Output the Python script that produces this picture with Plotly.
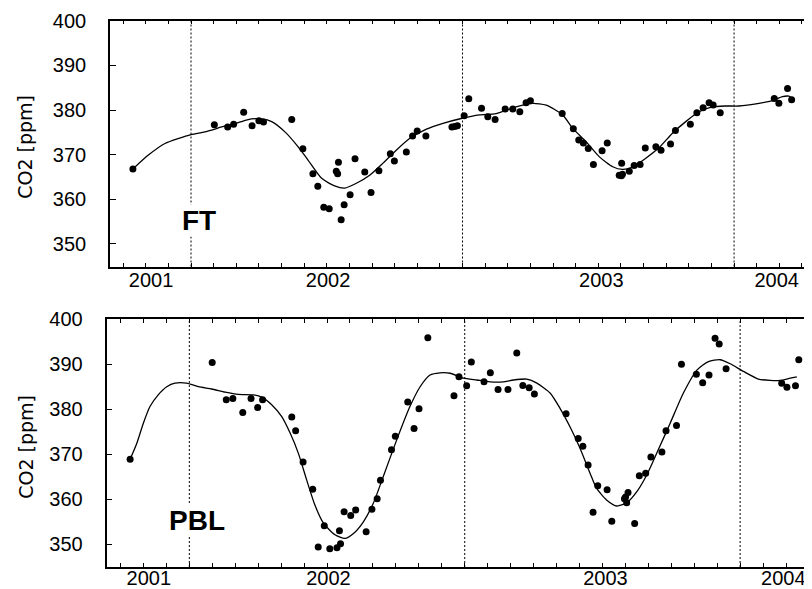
import plotly.graph_objects as go

# ---------------- data (decimal year, CO2 ppm) ----------------
ft_time = [2001.286, 2001.586, 2001.635, 2001.657, 2001.694, 2001.725, 2001.750, 2001.767, 2001.871, 2001.912,
           2001.949, 2001.967, 2001.989, 2002.009, 2002.035, 2002.040, 2002.043, 2002.053, 2002.064, 2002.086,
           2002.104, 2002.140, 2002.163, 2002.192, 2002.234, 2002.249, 2002.293, 2002.316, 2002.333, 2002.365,
           2002.461, 2002.471, 2002.481, 2002.506, 2002.523, 2002.570, 2002.593, 2002.620, 2002.657, 2002.685,
           2002.711, 2002.734, 2002.750, 2002.867, 2002.908, 2002.928, 2002.945, 2002.963, 2002.982, 2003.014,
           2003.033, 2003.077, 2003.085, 2003.089, 2003.086, 2003.114, 2003.132, 2003.154, 2003.173, 2003.212,
           2003.231, 2003.266, 2003.284, 2003.339, 2003.363, 2003.386, 2003.408, 2003.423, 2003.449, 2003.648,
           2003.665, 2003.697, 2003.712]
ft_co2 = [366.8, 376.7, 376.2, 376.8, 379.5, 376.5, 377.6, 377.3, 377.9, 371.3,
          365.7, 362.9, 358.2, 357.9, 366.3, 365.7, 368.3, 355.4, 358.8, 361.0,
          369.1, 366.1, 361.5, 366.4, 370.2, 368.6, 370.6, 374.2, 375.3, 374.2,
          376.2, 376.3, 376.5, 378.7, 382.5, 380.4, 378.5, 377.9, 380.2, 380.2,
          379.6, 381.6, 382.1, 379.2, 375.8, 373.3, 372.6, 371.4, 367.8, 370.9,
          372.6, 365.4, 365.3, 365.6, 368.1, 366.3, 367.6, 367.8, 371.5, 371.8,
          371.0, 372.4, 375.4, 376.8, 379.4, 380.5, 381.6, 381.1, 379.4, 382.6,
          381.5, 384.8, 382.3]

ft_fit_time = [2001.286, 2001.343, 2001.404, 2001.500, 2001.551, 2001.613, 2001.674, 2001.723, 2001.760, 2001.797,
               2001.846, 2001.894, 2001.931, 2001.981, 2002.029, 2002.066, 2002.109, 2002.158, 2002.207, 2002.256,
               2002.305, 2002.367, 2002.428, 2002.495, 2002.563, 2002.624, 2002.697, 2002.758, 2002.808, 2002.869,
               2002.906, 2002.955, 2003.004, 2003.053, 2003.089, 2003.126, 2003.175, 2003.224, 2003.273, 2003.322,
               2003.371, 2003.420, 2003.469, 2003.518, 2003.592, 2003.641, 2003.678, 2003.702, 2003.714]
ft_fit_co2 = [366.8, 369.9, 372.5, 374.5, 375.1, 376.2, 377.2, 378.0, 378.0, 377.4,
              375.1, 371.8, 368.8, 364.7, 363.0, 362.5, 363.6, 365.4, 368.1, 371.0,
              373.6, 375.7, 377.0, 378.1, 378.9, 379.2, 380.7, 381.5, 381.1, 378.9,
              375.9, 372.9, 369.5, 367.3, 366.7, 367.2, 369.2, 371.6, 374.8, 377.4,
              379.6, 380.7, 380.9, 380.9, 381.5, 382.1, 383.0, 383.1, 382.6]

pbl_time = [2001.285, 2001.583, 2001.634, 2001.658, 2001.694, 2001.724, 2001.748, 2001.766, 2001.872, 2001.886,
            2001.913, 2001.948, 2001.990, 2001.968, 2002.010, 2002.036, 2002.049, 2002.045, 2002.062, 2002.086,
            2002.104, 2002.142, 2002.163, 2002.182, 2002.194, 2002.234, 2002.248, 2002.293, 2002.316, 2002.334,
            2002.366, 2002.461, 2002.479, 2002.507, 2002.524, 2002.570, 2002.593, 2002.621, 2002.657, 2002.689,
            2002.711, 2002.734, 2002.753, 2002.868, 2002.912, 2002.929, 2002.948, 2002.983, 2002.966, 2003.017,
            2003.034, 2003.080, 2003.088, 2003.093, 2003.084, 2003.117, 2003.134, 2003.157, 2003.176, 2003.216,
            2003.231, 2003.269, 2003.287, 2003.341, 2003.364, 2003.387, 2003.409, 2003.424, 2003.449, 2003.651,
            2003.670, 2003.701, 2003.713]
pbl_co2 = [368.9, 390.4, 382.1, 382.4, 379.3, 382.4, 380.4, 382.1, 378.3, 375.2,
           368.3, 362.2, 354.1, 349.4, 349.0, 349.2, 350.1, 353.0, 357.2, 356.4,
           357.6, 352.8, 357.8, 360.1, 364.2, 371.0, 374.0, 381.6, 375.7, 380.1,
           395.9, 383.0, 387.2, 385.2, 390.5, 386.1, 388.1, 384.4, 384.4, 392.5,
           385.3, 384.8, 383.4, 379.0, 373.5, 371.8, 367.6, 363.0, 357.1, 362.1,
           355.1, 360.1, 359.2, 361.5, 360.5, 354.6, 365.2, 365.8, 369.4, 370.5,
           375.2, 376.4, 390.0, 387.8, 385.9, 387.6, 395.8, 394.5, 389.0, 385.8,
           384.9, 385.2, 391.0]

pbl_fit_time = [2001.285, 2001.309, 2001.333, 2001.357, 2001.387, 2001.418, 2001.448, 2001.490, 2001.533, 2001.581,
                2001.630, 2001.678, 2001.732, 2001.763, 2001.799, 2001.835, 2001.866, 2001.896, 2001.926, 2001.956,
                2001.987, 2002.029, 2002.065, 2002.096, 2002.132, 2002.168, 2002.204, 2002.253, 2002.301, 2002.338,
                2002.374, 2002.410, 2002.447, 2002.495, 2002.544, 2002.592, 2002.640, 2002.677, 2002.725, 2002.762,
                2002.810, 2002.846, 2002.883, 2002.919, 2002.955, 2002.979, 2003.016, 2003.052, 2003.088, 2003.125,
                2003.161, 2003.197, 2003.246, 2003.294, 2003.343, 2003.385, 2003.427, 2003.464, 2003.512, 2003.566,
                2003.609, 2003.645, 2003.682, 2003.706]
pbl_fit_co2 = [368.9, 372.4, 376.9, 380.6, 383.2, 385.0, 385.8, 385.8, 385.0, 384.5,
               383.8, 383.3, 383.2, 382.7, 381.0, 378.4, 374.7, 370.2, 364.3, 358.7,
               354.7, 352.1, 351.3, 352.4, 355.0, 359.1, 365.0, 373.2, 380.6, 385.0,
               387.6, 388.1, 388.0, 386.9, 386.5, 386.1, 386.1, 386.5, 386.7, 385.8,
               383.6, 380.2, 376.0, 371.3, 365.8, 362.4, 359.8, 358.5, 359.2, 361.7,
               365.4, 370.2, 376.9, 383.6, 388.7, 390.6, 391.0, 390.1, 388.4, 386.7,
               386.4, 386.4, 386.9, 387.2]

year_tick_vals = [2001.353, 2002.005, 2003.011, 2003.657]
year_tick_text = ["2001", "2002", "2003", "2004"]
co2_tick_vals = [350, 360, 370, 380, 390, 400]
season_marks = [2001.5, 2002.5, 2003.5]
panel_labels = ["FT", "PBL"]
y_title = "CO2 [ppm]"

# ---------------- figure ----------------
W, H = 812, 589
OFF = 8  # page body margin offset of the rendered html


def px_x(p):
    return (p - OFF) / W


def px_y(p):
    return 1 - (p - OFF) / H


TICKFONT = dict(family="Liberation Sans, Arial, sans-serif", size=20, color="black")

fig = go.Figure()

for xa, ya, t, c, ft, fc in [("x", "y", ft_time, ft_co2, ft_fit_time, ft_fit_co2),
                             ("x2", "y2", pbl_time, pbl_co2, pbl_fit_time, pbl_fit_co2)]:
    fig.add_trace(go.Scatter(x=ft, y=fc, mode="lines", xaxis=xa, yaxis=ya,
                             line=dict(color="black", width=1.3, shape="spline", smoothing=0.6),
                             showlegend=False, hoverinfo="skip"))
    fig.add_trace(go.Scatter(x=t, y=c, mode="markers", xaxis=xa, yaxis=ya,
                             marker=dict(color="black", size=7, line=dict(width=0)),
                             showlegend=False))


def xaxis_cfg(domain, rng, anchor, standoff):
    return dict(domain=domain, range=rng, tickmode="array", tickvals=year_tick_vals,
                ticktext=year_tick_text, ticks="", tickfont=TICKFONT, showgrid=False,
                zeroline=False, showline=True, linecolor="black", linewidth=1.6, mirror="allticks",
                automargin=False, anchor=anchor, ticklabelstandoff=standoff,
                minor=dict(tickmode="linear", tick0=2001.5, dtick=1 / 12, ticks="inside",
                           ticklen=4, tickwidth=1, tickcolor="black", showgrid=False))


def yaxis_cfg(domain, anchor):
    return dict(domain=domain, range=[344.95, 400.05], tickmode="array", tickvals=co2_tick_vals,
                ticks="inside", ticklen=6, tickwidth=1, tickcolor="black", tickfont=TICKFONT,
                showgrid=False, zeroline=False, showline=True, linecolor="black", linewidth=1.6,
                mirror="allticks", anchor=anchor, ticklabelstandoff=18, automargin=False)


fig.update_layout(
    width=W, height=H, margin=dict(l=0, r=0, t=0, b=0, autoexpand=False),
    paper_bgcolor="white", plot_bgcolor="white",
    xaxis=xaxis_cfg([px_x(110), px_x(812)], [2001.2017, 2003.787], "y", -5),
    yaxis=yaxis_cfg([px_y(266.5), px_y(20.5)], "x"),
    xaxis2=xaxis_cfg([px_x(106.5), px_x(812)], [2001.1992, 2003.761], "y2", -8),
    yaxis2=yaxis_cfg([px_y(567), px_y(319)], "x2"),
)

for xr, yr in [("x", "y domain"), ("x2", "y2 domain")]:
    for m in season_marks:
        fig.add_shape(type="line", xref=xr, yref=yr, x0=m, x1=m, y0=0, y1=1,
                      line=dict(color="black", width=1, dash="2px,2px"), layer="below")

label_font = dict(family="Liberation Sans, Arial, sans-serif", size=28, color="black")
for txt, px, py in [(panel_labels[0], 198.8, 220), (panel_labels[1], 197, 520)]:
    fig.add_annotation(text="<b>%s</b>" % txt, xref="paper", yref="paper", x=px_x(px), y=px_y(py),
                       xanchor="center", yanchor="middle", showarrow=False, font=label_font,
                       bgcolor="white", borderpad=0)

for py in [146.5, 446.5]:
    fig.add_annotation(text=y_title, xref="paper", yref="paper", x=px_x(25.3), y=px_y(py),
                       xanchor="center", yanchor="middle", textangle=-90, showarrow=False,
                       font=dict(family="DejaVu Sans, sans-serif", size=19, color="black"))

fig.write_html("out.html")
